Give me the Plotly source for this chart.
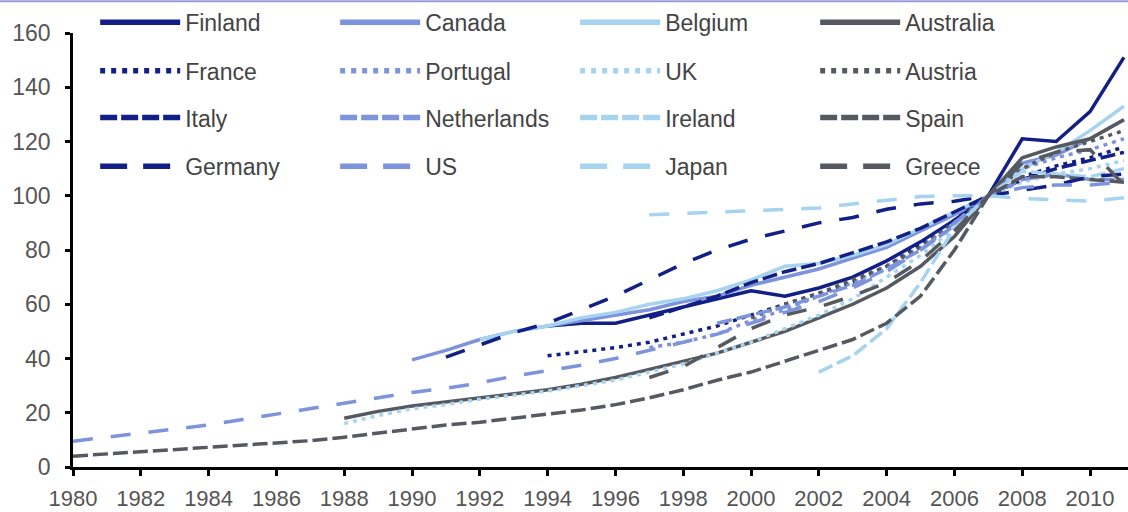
import plotly.graph_objects as go

# Index values (2007 = 100) by country
finland_years = list(range(1994, 2012))
finland = [52, 53, 53, 56, 59, 62, 65, 63, 66, 70, 76, 83, 91, 100, 121, 120, 131, 151]

canada_years = list(range(1990, 2012))
canada = [39.5, 43, 47, 50, 52, 54, 56, 58, 61, 63, 67, 70, 73, 77, 81, 87, 93, 100, 112, 115, 121, 128]

belgium_years = list(range(1992, 2012))
belgium = [47, 50, 52, 55, 57, 60, 62, 65, 69, 74, 75, 78, 82, 88, 94, 100, 110, 116, 124, 133]

australia_years = list(range(1988, 2012))
australia = [18, 20.5, 22.5, 24, 25.5, 27, 28.5, 30.5, 33, 36, 39, 42, 46, 50, 55, 60, 66, 74, 85, 100, 114, 118, 121, 128]

france_years = list(range(1994, 2012))
france = [41, 42.5, 44, 46, 49, 52, 56, 60, 64, 68, 74, 82, 91, 100, 107, 111, 114, 118]

portugal_years = list(range(1997, 2012))
portugal = [44, 46, 49, 54, 58, 63, 68, 74, 81, 90, 100, 110, 114, 117, 121]

uk_years = list(range(1988, 2012))
uk = [16, 19, 21.5, 23, 25, 26.5, 28, 30, 32, 35, 38, 42, 46, 51, 56, 62, 70, 78, 88, 100, 105, 108, 110, 113]

austria_years = list(range(2000, 2012))
austria = [55, 60, 64, 69, 74, 81, 90, 100, 110, 116, 120, 124]

italy_years = list(range(1997, 2012))
italy = [55, 59, 63, 68, 72, 75, 79, 83, 88, 94, 100, 106, 110, 113, 116]

netherlands_years = list(range(1999, 2012))
netherlands = [53, 56, 59, 63, 67, 73, 80, 89, 100, 106, 108, 106, 106]

ireland_years = list(range(2002, 2012))
ireland = [35, 41, 51, 68, 88, 100, 109, 108, 107, 110]

spain_years = list(range(1980, 2012))
spain = [4, 4.8, 5.5, 6.5, 7, 7.8, 8.7, 9.7, 11, 12.5, 14, 15.5, 16.5, 18, 19.3, 21, 23, 25.5,
         28.5, 32, 35, 39, 43, 47, 53, 63, 80, 100, 107, 107, 106, 105]

germany_years = list(range(1991, 2012))
germany = [40.5, 45, 49.5, 53, 58, 63, 69, 75, 80, 84, 87, 90, 92, 95, 97, 98, 100, 102, 104, 107, 108]

us_years = list(range(1980, 2012))
us = [9.5, 11, 12.5, 14, 15.5, 17.5, 19.5, 21.5, 23.5, 25.5, 27.5, 29, 31, 33.5, 35.5, 37.5, 40,
      43, 46, 49, 53, 57, 61, 66, 72, 80, 90, 100, 103, 104, 104, 105]

japan_years = list(range(1997, 2012))
japan = [93, 93.5, 94, 94.5, 95, 95.5, 97, 98.5, 99.7, 100, 100, 99, 98.5, 98, 99.3]

greece_years = list(range(1997, 2012))
greece = [33, 37, 44, 51, 56, 59, 63, 68, 76, 87, 100, 112, 116, 117, 104]

y_ticks = [0, 20, 40, 60, 80, 100, 120, 140, 160]
x_ticks = list(range(1980, 2011, 2))

NAVY = "#121f86"
PURPLE = "#7d93dc"
LIGHT = "#a6d3f0"
GREY = "#565a60"

# dash patterns: (in the plot, in the legend key)
STYLES = {
    "solid": ("solid", "solid"),
    "dot": ("4px,5px", "5px,6px"),
    "short": ("15px,5px", "17px,4px"),
    "long": ("20px,18px", "27px,16px"),
}

# (name, years, values, colour, style, legend row)
series = [
    ("Finland", finland_years, finland, NAVY, "solid", 1),
    ("Canada", canada_years, canada, PURPLE, "solid", 1),
    ("Belgium", belgium_years, belgium, LIGHT, "solid", 1),
    ("Australia", australia_years, australia, GREY, "solid", 1),
    ("France", france_years, france, NAVY, "dot", 2),
    ("Portugal", portugal_years, portugal, PURPLE, "dot", 2),
    ("UK", uk_years, uk, LIGHT, "dot", 2),
    ("Austria", austria_years, austria, GREY, "dot", 2),
    ("Italy", italy_years, italy, NAVY, "short", 3),
    ("Netherlands", netherlands_years, netherlands, PURPLE, "short", 3),
    ("Ireland", ireland_years, ireland, LIGHT, "short", 3),
    ("Spain", spain_years, spain, GREY, "short", 3),
    ("Germany", germany_years, germany, NAVY, "long", 4),
    ("US", us_years, us, PURPLE, "long", 4),
    ("Japan", japan_years, japan, LIGHT, "long", 4),
    ("Greece", greece_years, greece, GREY, "long", 4),
]

fig = go.Figure()
for name, xs, ys, color, style, row in series:
    fig.add_trace(go.Scatter(
        x=xs, y=ys, name=name, mode="lines", showlegend=False,
        line=dict(color=color, width=3.5, dash=STYLES[style][0]),
    ))

# legend keys use a heavier stroke than the plotted lines
for name, xs, ys, color, style, row in series:
    fig.add_trace(go.Scatter(
        x=[None], y=[None], name=name, mode="lines", hoverinfo="skip",
        line=dict(color=color, width=5.5, dash=STYLES[style][1]),
        legend="legend" if row == 1 else f"legend{row}",
    ))

legend_font = dict(family="Liberation Sans, Arial, sans-serif", size=23, color="#444444")
row_y = {1: 1.0244, 2: 0.913, 3: 0.805, 4: 0.693}
legends = {}
for row, yy in row_y.items():
    key = "legend" if row == 1 else f"legend{row}"
    legends[key] = dict(
        orientation="h", x=0.021, y=yy, xanchor="left", yanchor="middle",
        entrywidth=145, entrywidthmode="pixels", itemwidth=80,
        font=legend_font, bgcolor="rgba(0,0,0,0)", traceorder="normal",
    )

x_tick_font = dict(family="Liberation Sans, Arial, sans-serif", size=22, color="#555555")
y_tick_font = dict(family="Liberation Sans, Arial, sans-serif", size=23, color="#555555")

fig.update_layout(
    width=1128, height=512,
    margin=dict(l=73, r=0, t=33, b=45, autoexpand=False),
    paper_bgcolor="white", plot_bgcolor="white",
    showlegend=True,
    xaxis=dict(
        range=[1980, 2011.12], tickvals=x_ticks, ticktext=[str(v) for v in x_ticks],
        showgrid=False, zeroline=False, showline=True, linecolor="black", linewidth=2.5,
        ticks="outside", ticklen=6, tickwidth=2.5, tickcolor="black", tickfont=x_tick_font,
        ticklabelstandoff=4,
    ),
    yaxis=dict(
        range=[0, 160], tickvals=y_ticks,
        showgrid=False, zeroline=False, showline=True, linecolor="black", linewidth=2.5,
        ticks="outside", ticklen=5, tickwidth=2.5, tickcolor="black", tickfont=y_tick_font,
        ticklabelstandoff=10,
    ),
    shapes=[dict(type="line", xref="paper", yref="paper", x0=-0.07, x1=1, y0=1.073, y1=1.073,
                 line=dict(color="#9a9ad8", width=2))],
    **legends,
)

fig.write_html("out.html")
